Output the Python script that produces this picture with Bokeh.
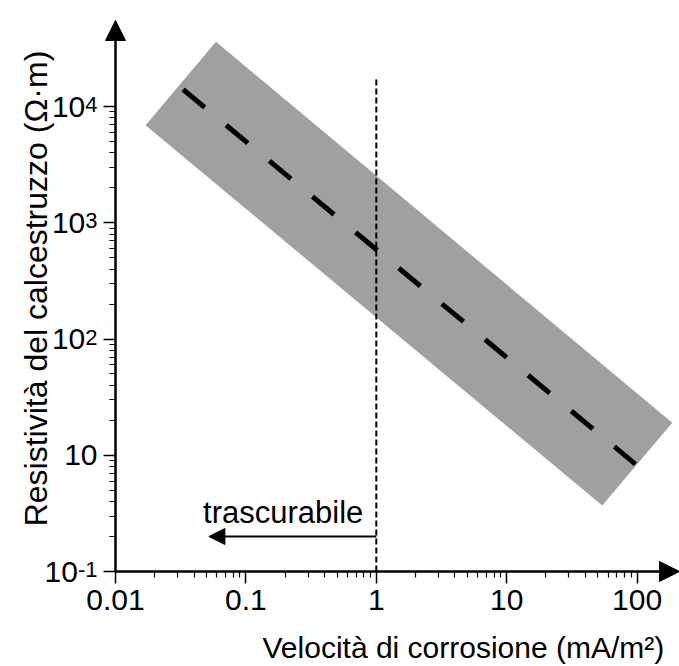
import math

from bokeh.embed import file_html
from bokeh.models import Arrow, FixedTicker, Label, NormalHead, Range1d
from bokeh.plotting import figure
from bokeh.resources import INLINE

FONT = "Liberation Sans"

# Concrete resistivity (ohm*m) against corrosion rate (mA/m2)
band_rate = [0.017, 0.059, 186, 54]
band_resistivity = [6900, 36000, 19, 3.7]

trend_rate = [0.033, 97]
trend_resistivity = [14000, 8.4]

threshold_rate = 1.0
threshold_top = 18000

negligible_level = 2.0
negligible_tip = 0.052
negligible_text = "trascurabile"

x_ticks = [0.01, 0.1, 1, 10, 100]
x_tick_labels = ["0.01", "0.1", "1", "10", "100"]

y_ticks = [1, 10, 100, 1000, 10000]
y_tick_base = ["10", "10", "10", "10", "10"]
y_tick_exp = ["-1", "", "2", "3", "4"]

x_title = "Velocità di corrosione (mA/m²)"
y_title = "Resistività del calcestruzzo (Ω·m)"

# canvas geometry (pixels): origin of the axes and size of one decade
W, H = 679, 666
ORIGIN_X, ORIGIN_Y = 115, 571
X_DECADE = 130.4
Y_DECADE = 116.25
Y_ARROW_TOP = 20

x_origin = x_ticks[0]
y_origin = y_ticks[0]

# the plotting frame fills the canvas; axes sit at fixed data locations
x_start = 10 ** (math.log10(x_origin) - ORIGIN_X / X_DECADE)
x_end = 10 ** (math.log10(x_origin) + (W - ORIGIN_X) / X_DECADE)
y_start = 10 ** (math.log10(y_origin) - (H - ORIGIN_Y) / Y_DECADE)
y_end = 10 ** (math.log10(y_origin) + ORIGIN_Y / Y_DECADE)
y_arrow = 10 ** (math.log10(y_origin) + (ORIGIN_Y - Y_ARROW_TOP) / Y_DECADE)

p = figure(
    width=W,
    height=H,
    x_axis_type="log",
    y_axis_type="log",
    x_range=Range1d(x_start, x_end),
    y_range=Range1d(y_start, y_end),
    output_backend="svg",
    toolbar_location=None,
    min_border=0,
)
p.outline_line_color = None
p.background_fill_color = "white"
p.border_fill_color = "white"
p.xgrid.visible = False
p.ygrid.visible = False


def minor_between(majors):
    out = []
    for m in majors[:-1]:
        out.extend(m * k for k in range(2, 10))
    return out


p.xaxis.fixed_location = y_origin
p.yaxis.fixed_location = x_origin
p.xaxis.ticker = FixedTicker(ticks=x_ticks, minor_ticks=minor_between(x_ticks))
p.yaxis.ticker = FixedTicker(ticks=y_ticks, minor_ticks=minor_between(y_ticks))
for ax in (p.xaxis, p.yaxis):
    ax.axis_line_alpha = 0
    ax.major_tick_in = 0
    ax.major_tick_out = 12
    ax.major_tick_line_width = 1.5
    ax.major_tick_line_color = "black"
    ax.minor_tick_in = 0
    ax.minor_tick_out = 6
    ax.minor_tick_line_width = 1.2
    ax.minor_tick_line_color = "black"

p.xaxis.major_label_overrides = {t: s for t, s in zip(x_ticks, x_tick_labels)}
p.xaxis.major_label_text_font = FONT
p.xaxis.major_label_text_font_size = "30px"
p.xaxis.major_label_text_color = "black"
p.xaxis.major_label_standoff = 6
# y labels carry superscripts, so the axis itself shows blanks
p.yaxis.major_label_overrides = {t: " " for t in y_ticks}
p.yaxis.major_label_text_alpha = 0

# shaded range and central trend
p.patch(band_rate, band_resistivity, fill_color="#a0a0a0", line_color=None)
p.line(trend_rate, trend_resistivity, line_color="black", line_width=5,
       line_dash="28 28", line_cap="butt")

# threshold at 1 mA/m2
p.line([threshold_rate, threshold_rate], [y_origin, threshold_top],
       line_color="black", line_width=2, line_dash="6 3")

# axis lines with arrowheads
p.add_layout(Arrow(end=NormalHead(size=20, fill_color="black", line_color="black"),
                   x_start=x_origin, y_start=y_origin, x_end=x_end, y_end=y_origin,
                   line_width=2.5, line_color="black"))
p.add_layout(Arrow(end=NormalHead(size=20, fill_color="black", line_color="black"),
                   x_start=x_origin, y_start=y_origin, x_end=x_origin, y_end=y_arrow,
                   line_width=2.5, line_color="black"))

# "negligible" region arrow
p.add_layout(Arrow(end=NormalHead(size=16, fill_color="black", line_color="black"),
                   x_start=threshold_rate, y_start=negligible_level,
                   x_end=negligible_tip, y_end=negligible_level,
                   line_width=2, line_color="black"))
p.add_layout(Label(x=threshold_rate, y=negligible_level, x_offset=-13, y_offset=24,
                   text=negligible_text, text_align="right", text_baseline="alphabetic",
                   text_font=FONT, text_font_size="31px", text_color="black"))

# y tick labels with superscript exponents
BASE_SIZE, SUP_SIZE = 30, 22
ADV = {"-": 0.333}
LABEL_RIGHT = 97
for val, base, exp in zip(y_ticks, y_tick_base, y_tick_exp):
    sup_w = sum(ADV.get(c, 0.556) for c in exp) * SUP_SIZE
    if exp:
        p.add_layout(Label(x=LABEL_RIGHT, y=val, x_units="screen", y_units="data",
                           y_offset=2, text=exp, text_align="right",
                           text_baseline="alphabetic",
                           text_font=FONT, text_font_size=f"{SUP_SIZE}px",
                           text_color="black"))
    p.add_layout(Label(x=LABEL_RIGHT - sup_w, y=val, x_units="screen", y_units="data",
                       text=base, text_align="right", text_baseline="middle",
                       text_font=FONT, text_font_size=f"{BASE_SIZE}px",
                       text_color="black"))

# axis titles
p.add_layout(Label(x=262, y=H - 647, x_units="screen", y_units="screen",
                   text=x_title, text_align="left", text_baseline="alphabetic",
                   text_font=FONT, text_font_size="30px", text_color="black"))
p.add_layout(Label(x=35, y=H - 288, x_units="screen", y_units="screen",
                   text=y_title, angle=math.pi / 2, text_align="center",
                   text_baseline="alphabetic",
                   text_font=FONT, text_font_size="32px", text_color="black"))

open("out.html", "w").write(file_html(p, INLINE))
